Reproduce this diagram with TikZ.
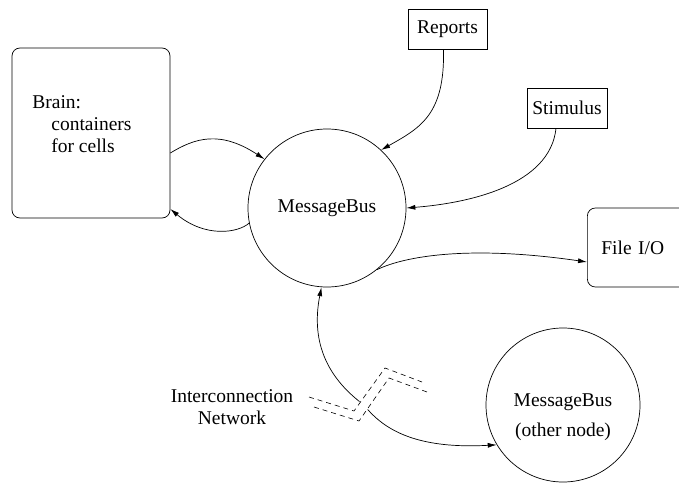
\documentclass[tikz,border=0pt]{standalone}
\usepackage{fontspec}
\setmainfont{Liberation Serif}
\newfontfamily\diagfont{Liberation Serif}
\usepackage{tikz}
\usetikzlibrary{arrows.meta}

\begin{document}
\begin{tikzpicture}[x=1pt, y=-1pt, line width=0.7pt,
        >={Latex[length=9pt,width=5pt]},
        every node/.style={font=\diagfont\fontsize{19.5}{22}\selectfont},
        bus/.style={draw, circle, inner sep=0pt},
        store/.style={draw, rectangle, rounded corners=8pt, inner sep=0pt},
        feed/.style={draw, rectangle, minimum height=40pt, inner sep=0pt},
        netgap/.style={draw=white, line width=11pt},
        netline/.style={draw, dash pattern=on 5pt off 4pt, line width=0.6pt}]
        \useasboundingbox (0,0) rectangle (679,487);
        \node[store, minimum width=158pt, minimum height=170pt] (brain) 
        at (91,133) {};
        \node[anchor=north west, inner sep=0pt, align=left] (braintext) 
        at (32,95) {Brain:\\\hspace*{19pt}containers\\\hspace*{19pt}for cells};
        \node[bus, minimum size=158pt] (bus) at (327,208) {MessageBus};
        \node[feed, minimum width=79pt] (reports) at (447.5,29) {Reports};
        \node[feed, minimum width=80pt] (stimulus) at (567,108) {Stimulus};
        \node[store, anchor=west, minimum height=79pt, text width=92pt, 
        inner xsep=14pt, align=left] (fileio) at (587,247.5) {File I/O};
        \node[bus, minimum size=154pt] (other) at (563,405) {};
        \node[align=center] (otherlbl) at (563,417) 
        {MessageBus\\[8pt](other node)};
        \node[align=center] (netlbl) at (232,407) {Interconnection\\Network};
        \coordinate (cross) at (364,405);
        \draw[->] ([yshift=-20pt]brain.east) .. controls (195,138) and (220,130) 
        .. (bus.142);
        \draw[->] (bus.191) .. controls (238,233) and (205,238) 
        .. ([yshift=-76pt]brain.east);
        \draw[->] ([xshift=-4pt]reports.south) .. controls (445,115) and (420,128) 
        .. (bus.47);
        \draw[->] ([xshift=-11pt]stimulus.south) .. controls (550,185) and 
        (470,203) .. (bus.east);
        \draw[->] (bus.-51) .. controls (405,256) and (470,245) 
        .. ([yshift=-14.5pt]fileio.west);
        \draw[<->] (bus.-94) .. controls (310,345) and (330,380) .. (cross) 
        .. controls (385,432) and (420,449) .. (other.211);
        \path[netgap] (311,402) -- (356,416) -- (387,373) -- (424,387);
        \path[netline] (309,397) -- (354,411) -- (385,368) -- (422,382);
        \path[netline] (314,407) -- (359,421) -- (389,378) -- (427,392);
    \end{tikzpicture}
\end{document}
